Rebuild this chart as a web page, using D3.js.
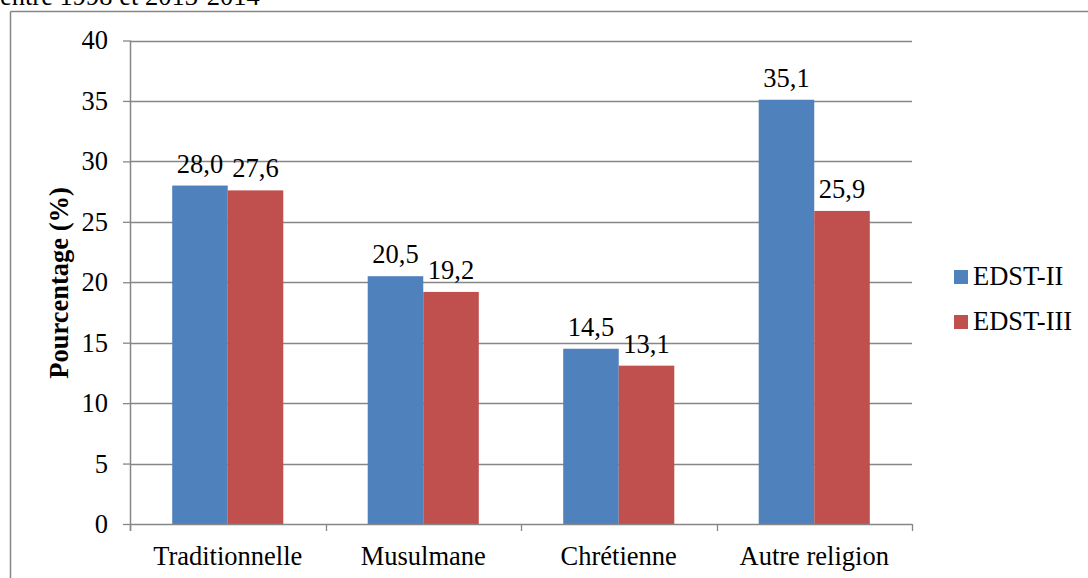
<!DOCTYPE html>
<html>
<head>
<meta charset="utf-8">
<script src="https://cdn.jsdelivr.net/npm/d3@7"></script>
<style>
  html, body { margin: 0; padding: 0; background: #fff; }
  svg { display: block; }
</style>
</head>
<body>
<svg id="chart" width="1088" height="578" font-family="Liberation Serif"></svg>
<script>
// Categories and series
const categories = ["Traditionnelle", "Musulmane", "Chrétienne", "Autre religion"];
const seriesNames = ["EDST-II", "EDST-III"];
const edst2 = [28.0, 20.5, 14.5, 35.1];
const edst3 = [27.6, 19.2, 13.1, 25.9];
const yTicks = [0, 5, 10, 15, 20, 25, 30, 35, 40];
const colors = ["#4F81BD", "#C0504D"];

const seriesValues = [edst2, edst3];
const rows = categories.map((c, i) => ({
  category: c,
  values: seriesNames.map((s, j) => ({ series: s, value: seriesValues[j][i] }))
}));

const FONT = "Liberation Serif";
const FS = 26.5;
const svg = d3.select("#chart");
const axisColor = "#868686";
const fmt = v => v.toFixed(1).replace(".", ",");

// Caption line above the frame (upper part clipped by the page edge)
svg.append("text")
  .attr("x", 0).attr("y", 5)
  .attr("font-size", FS)
  .attr("font-family", FONT)
  .attr("fill", "#000")
  .text("entre 1998 et 2013-2014");

// Outer frame
svg.append("line").attr("x1", 10.5).attr("x2", 1088).attr("y1", 11.5).attr("y2", 11.5)
  .attr("stroke", axisColor).attr("stroke-width", 1.5);
svg.append("line").attr("x1", 10.5).attr("x2", 10.5).attr("y1", 11.5).attr("y2", 578)
  .attr("stroke", axisColor).attr("stroke-width", 1.5);

const plot = { left: 130, right: 912, top: 40.5, bottom: 524 };

const y = d3.scaleLinear().domain([0, 40]).range([plot.bottom, plot.top]);
const x0 = d3.scaleBand().domain(categories).range([plot.left, plot.right]).padding(0);
const x1 = d3.scaleBand().domain(seriesNames).range([0, x0.bandwidth()])
  .paddingInner(0).paddingOuter(0.76);

// Horizontal gridlines
svg.append("g").selectAll("line")
  .data(yTicks.filter(t => t > 0))
  .join("line")
  .attr("x1", plot.left).attr("x2", plot.right)
  .attr("y1", d => Math.round(y(d)) + 0.5).attr("y2", d => Math.round(y(d)) + 0.5)
  .attr("stroke", axisColor).attr("stroke-width", 1.3);

// Y axis
const yAxis = svg.append("g")
  .attr("transform", `translate(${plot.left},0)`)
  .call(d3.axisLeft(y).tickValues(yTicks).tickSize(7).tickPadding(15).tickFormat(d3.format("d")));
yAxis.attr("font-family", FONT).attr("font-size", FS);
yAxis.select(".domain").attr("stroke", axisColor).attr("stroke-width", 1.5)
  .attr("d", `M0.5,${plot.top}V${plot.bottom + 7}`);
yAxis.selectAll(".tick line").attr("stroke", axisColor).attr("stroke-width", 1.3);
yAxis.selectAll(".tick text").attr("fill", "#000");

// Bars
const groups = svg.append("g").selectAll("g")
  .data(rows)
  .join("g")
  .attr("transform", d => `translate(${x0(d.category)},0)`);

groups.selectAll("rect")
  .data(d => d.values)
  .join("rect")
  .attr("x", d => x1(d.series))
  .attr("width", x1.bandwidth())
  .attr("y", d => y(d.value))
  .attr("height", d => y(0) - y(d.value))
  .attr("fill", (d, i) => colors[i]);

// Value labels
groups.selectAll("text.val")
  .data(d => d.values)
  .join("text")
  .attr("class", "val")
  .attr("x", d => x1(d.series) + x1.bandwidth() / 2)
  .attr("y", d => y(d.value) - 13)
  .attr("text-anchor", "middle")
  .attr("font-size", FS)
  .attr("font-family", FONT)
  .attr("fill", "#000")
  .text(d => fmt(d.value));

// X axis
const xAxis = svg.append("g")
  .attr("transform", `translate(0,${plot.bottom})`);
xAxis.append("line")
  .attr("x1", plot.left).attr("x2", plot.right)
  .attr("y1", 0.5).attr("y2", 0.5)
  .attr("stroke", axisColor).attr("stroke-width", 1.5);
const boundaries = categories.map(c => x0(c)).concat([x0.range()[1]]);
xAxis.selectAll("line.tk")
  .data(boundaries)
  .join("line")
  .attr("class", "tk")
  .attr("x1", d => Math.round(d) + 0.5).attr("x2", d => Math.round(d) + 0.5)
  .attr("y1", 0).attr("y2", 7)
  .attr("stroke", axisColor).attr("stroke-width", 1.3);
xAxis.selectAll("text")
  .data(categories)
  .join("text")
  .attr("x", d => x0(d) + x0.bandwidth() / 2)
  .attr("y", 41)
  .attr("text-anchor", "middle")
  .attr("font-size", FS)
  .attr("font-family", FONT)
  .attr("fill", "#000")
  .text(d => d);

// Y axis title
svg.append("text")
  .attr("transform", "translate(68,283) rotate(-90)")
  .attr("text-anchor", "middle")
  .attr("font-size", FS)
  .attr("font-weight", "bold")
  .attr("font-family", FONT)
  .attr("fill", "#000")
  .text("Pourcentage (%)");

// Legend
const legend = svg.append("g").attr("transform", "translate(954,270)");
const items = legend.selectAll("g")
  .data(seriesNames)
  .join("g")
  .attr("transform", (d, i) => `translate(0,${i * 45})`);
items.append("rect")
  .attr("x", 0).attr("y", 0)
  .attr("width", 14).attr("height", 14)
  .attr("fill", (d, i) => colors[i]);
items.append("text")
  .attr("x", 19).attr("y", 15)
  .attr("font-size", FS)
  .attr("font-family", FONT)
  .attr("fill", "#000")
  .text(d => d);
</script>
</body>
</html>
